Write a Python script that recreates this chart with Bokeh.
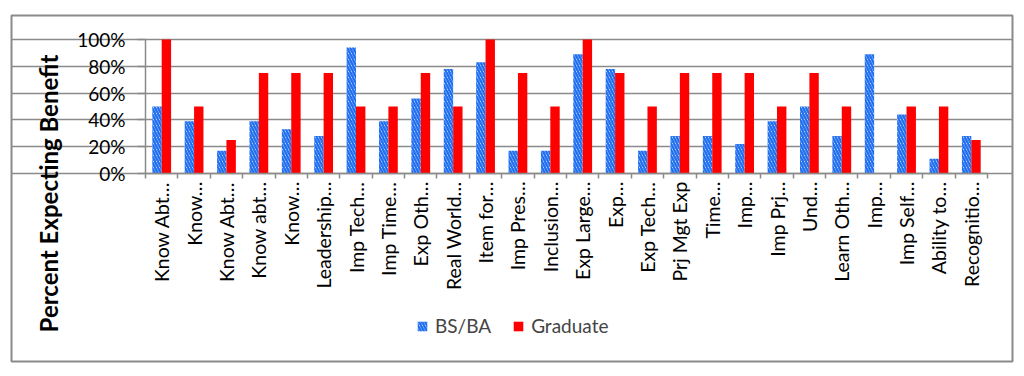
from math import pi
from bokeh.plotting import figure
from bokeh.models import (ColumnDataSource, FixedTicker, NumeralTickFormatter, Range1d,
                          Legend, LegendItem, LinearAxis)
from bokeh.transform import dodge
from bokeh.embed import file_html
from bokeh.resources import INLINE

categories = ["Know Abt…", "Know…", "Know Abt…", "Know abt…", "Know…", "Leadership…",
              "Imp Tech…", "Imp Time…", "Exp Oth…", "Real World…", "Item for…", "Imp Pres…",
              "Inclusion…", "Exp Large…", "Exp…", "Exp Tech…", "Prj Mgt Exp", "Time…",
              "Imp…", "Imp Prj…", "Und…", "Learn Oth…", "Imp…", "Imp Self…", "Ability to…",
              "Recognitio…"]
bsba = [0.50, 0.39, 0.17, 0.39, 0.33, 0.28, 0.94, 0.39, 0.56, 0.78, 0.83, 0.17, 0.17,
        0.89, 0.78, 0.17, 0.28, 0.28, 0.22, 0.39, 0.50, 0.28, 0.89, 0.44, 0.11, 0.28]
graduate = [1.00, 0.50, 0.25, 0.75, 0.75, 0.75, 0.50, 0.50, 0.75, 0.50, 1.00, 0.75, 0.50,
            1.00, 0.75, 0.50, 0.75, 0.75, 0.75, 0.50, 0.75, 0.50, 0.00, 0.50, 0.50, 0.25]
y_ticks = [0, 0.2, 0.4, 0.6, 0.8, 1.0]
series_names = ["BS/BA", "Graduate"]
y_title = "Percent Expecting Benefit"

FONT = "Lato"
GRID = "#8a8a8a"

n = len(categories)
xs = list(range(1, n + 1))
source = ColumnDataSource(dict(x=xs, bsba=bsba, graduate=graduate))

# The frame is the whole chart area (its outline is the chart border); the axes sit
# inside it at fixed data locations.
px_per_cat = 842 / n
px_per_unit = 134
p = figure(width=1020, height=370, output_backend="svg", toolbar_location=None,
           x_range=Range1d(0.5 - 134 / px_per_cat, n + 0.5 + 25 / px_per_cat),
           y_range=Range1d(-188 / px_per_unit, 158 / px_per_unit),
           min_border_left=11, min_border_right=8, min_border_top=15, min_border_bottom=9)
p.outline_line_color = GRID
p.outline_line_width = 2
p.background_fill_color = "white"
p.border_fill_color = "white"

bw = 0.29
r1 = p.vbar(x=dodge("x", -bw / 2, range=p.x_range), top="bsba", width=bw, source=source,
            fill_color="white", line_color=None, hatch_pattern="left_diagonal_line",
            hatch_color="#1f6ff0", hatch_weight=2.4, hatch_scale=6)
r2 = p.vbar(x=dodge("x", bw / 2, range=p.x_range), top="graduate", width=bw, source=source,
            fill_color="#ff0000", line_color=None)

# x axis at 0%
xa = p.xaxis[0]
xa.fixed_location = 0
xa.bounds = (0.5, n + 0.5)
xa.ticker = FixedTicker(ticks=xs, minor_ticks=[i + 0.5 for i in range(n + 1)])
xa.major_label_overrides = {i: c for i, c in zip(xs, categories)}
xa.major_label_orientation = pi / 2
xa.major_tick_line_color = None
xa.major_tick_out = 0
xa.major_tick_in = 0
xa.minor_tick_line_color = GRID
xa.minor_tick_line_width = 1.5
xa.minor_tick_out = 5
xa.minor_tick_in = 0
xa.axis_line_color = GRID
xa.axis_line_width = 1.5
xa.major_label_standoff = 3
xa.major_label_text_font = FONT
xa.major_label_text_font_size = "19.5px"
xa.major_label_text_color = "black"

# y axis at the left edge of the categories
ya = p.yaxis[0]
ya.fixed_location = 0.5
ya.bounds = (0, 1)
ya.ticker = FixedTicker(ticks=y_ticks, minor_ticks=[])
ya.formatter = NumeralTickFormatter(format="0%")
ya.axis_line_color = GRID
ya.axis_line_width = 1.5
ya.major_tick_line_color = GRID
ya.major_tick_line_width = 1.5
ya.major_tick_out = 8
ya.major_tick_in = 0
ya.minor_tick_line_color = None
ya.major_label_standoff = 12
ya.major_label_text_font = FONT
ya.major_label_text_font_size = "19px"
ya.major_label_text_color = "black"

# invisible helper axis that only carries the y title, centred on the chart height
title_axis = LinearAxis(fixed_location=0.5, bounds=(-1.0, 0.70),
                        ticker=FixedTicker(ticks=[], minor_ticks=[]),
                        axis_line_color=None, major_tick_line_color=None,
                        minor_tick_line_color=None, major_label_text_font_size="0px",
                        axis_label=y_title, axis_label_standoff=83,
                        axis_label_text_font=FONT, axis_label_text_font_style="bold",
                        axis_label_text_font_size="24px", axis_label_text_color="black")
p.add_layout(title_axis, "left")

p.xgrid.grid_line_color = None
p.ygrid.ticker = FixedTicker(ticks=y_ticks)
p.ygrid.bounds = (0.5, n + 0.5)
p.ygrid.grid_line_color = GRID
p.ygrid.grid_line_width = 1.5

legend = Legend(items=[LegendItem(label=series_names[0], renderers=[r1]),
                       LegendItem(label=series_names[1], renderers=[r2])],
                orientation="horizontal", location=(405, 24),
                glyph_width=12, glyph_height=12, label_standoff=7, spacing=21,
                padding=0, margin=0, border_line_color=None, background_fill_alpha=0,
                label_text_font=FONT, label_text_font_size="19px", label_height=20)
p.add_layout(legend)

open("out.html", "w").write(file_html(p, INLINE))
